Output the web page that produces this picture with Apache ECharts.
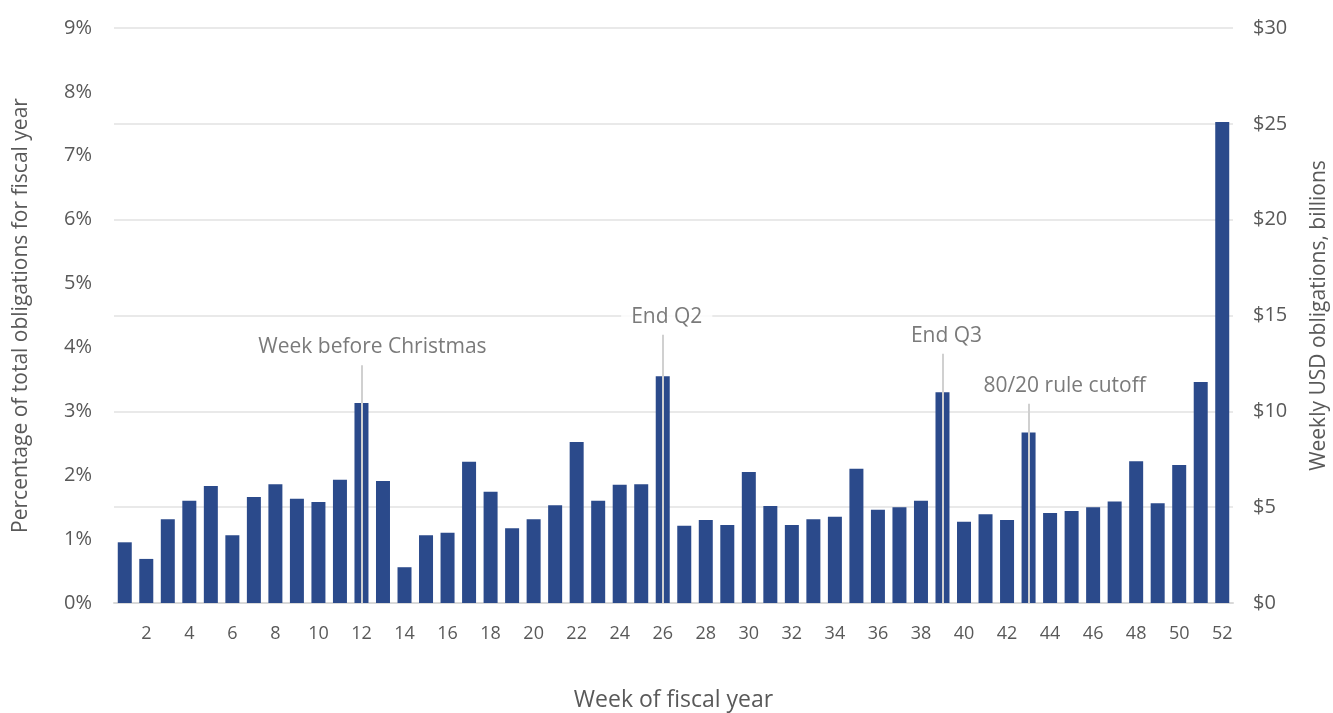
<!DOCTYPE html>
<html>
<head>
<meta charset="utf-8">
<script src="https://cdn.jsdelivr.net/npm/echarts@6/dist/echarts.min.js"></script>
<style>
  html, body { margin: 0; padding: 0; background: #fff; }
  #chart { width: 1333px; height: 713px; }
</style>
</head>
<body>
<div id="chart"></div>
<script>
// weeks of the fiscal year
const weeks = []
for (let w = 1; w <= 52; w++) weeks.push(String(w))

// share of yearly obligations per week, in %
const share = [
  0.95, 0.69, 1.31, 1.60, 1.83, 1.06, 1.66, 1.86, 1.63, 1.58,
  1.93, 3.13, 1.91, 0.56, 1.06, 1.10, 2.21, 1.74, 1.17, 1.31,
  1.53, 2.52, 1.60, 1.85, 1.86, 3.55, 1.21, 1.30, 1.22, 2.05,
  1.52, 1.22, 1.31, 1.35, 2.10, 1.46, 1.50, 1.60, 3.30, 1.27,
  1.39, 1.30, 2.67, 1.41, 1.44, 1.50, 1.59, 2.22, 1.56, 2.16,
  3.46, 7.53
]

// annotations: week, text, label height and line top (in %)
const noteWeeks = ['12', '26', '39', '43']
const noteTexts = ['Week before Christmas', 'End Q2', 'End Q3', '80/20 rule cutoff']
const noteLabelY = [4.01, 4.48, 4.18, 3.40]
const noteLineTop = [3.72, 4.20, 3.90, 3.12]
const noteShift = [11, 4, 4, 36]

const pctTicks = { min: 0, max: 9, interval: 1 }
const usdTicks = { min: 0, max: 30, interval: 5 }

const textColor = '#595959'
const font = 'Open Sans'

const chart = echarts.init(document.getElementById('chart'))

const noteData = noteWeeks.map((w, i) => ({
  value: [w, noteLabelY[i]],
  label: { formatter: noteTexts[i], offset: [noteShift[i], 0] }
}))

const noteLines = noteWeeks.map((w, i) => [
  { coord: [w, noteLineTop[i]] },
  { coord: [w, 0] }
])

chart.setOption({
  animation: false,
  grid: { left: 114, right: 100, top: 28, bottom: 110, outerBoundsMode: 'none', containLabel: false },
  xAxis: {
    type: 'category',
    data: weeks,
    name: 'Week of fiscal year',
    nameLocation: 'middle',
    nameGap: 86,
    nameTextStyle: { color: textColor, fontSize: 23, fontFamily: font },
    axisTick: { show: false },
    axisLine: { lineStyle: { color: '#d9d9d9', width: 2 } },
    axisLabel: {
      interval: (i) => i % 2 === 1,
      color: textColor, fontSize: 18, fontFamily: font, margin: 22
    }
  },
  yAxis: [
    {
      type: 'value',
      min: pctTicks.min, max: pctTicks.max, interval: pctTicks.interval,
      name: 'Percentage of total obligations for fiscal year',
      nameLocation: 'middle',
      nameGap: 82,
      nameTextStyle: { color: textColor, fontSize: 21, fontFamily: font },
      splitLine: { show: false },
      axisLine: { show: false },
      axisTick: { show: false },
      axisLabel: {
        formatter: (v) => v + '%',
        color: textColor, fontSize: 20, fontFamily: font, margin: 22
      }
    },
    {
      type: 'value',
      position: 'right',
      min: usdTicks.min, max: usdTicks.max, interval: usdTicks.interval,
      name: 'Weekly USD obligations, billions',
      nameLocation: 'middle',
      nameGap: 76,
      nameTextStyle: { color: textColor, fontSize: 21, fontFamily: font },
      splitLine: { show: true, lineStyle: { color: '#e2e2e2', width: 1.5 } },
      axisLine: { show: false },
      axisTick: { show: false },
      axisLabel: {
        formatter: (v) => '$' + v,
        color: textColor, fontSize: 20, fontFamily: font, margin: 20
      }
    }
  ],
  series: [
    {
      type: 'bar',
      yAxisIndex: 0,
      data: share,
      barWidth: 14,
      itemStyle: { color: '#2b4a8b' },
      z: 2
    },
    {
      type: 'scatter',
      yAxisIndex: 0,
      data: noteData,
      symbolSize: 1,
      itemStyle: { color: 'rgba(0,0,0,0)' },
      z: 10,
      label: {
        show: true,
        position: 'inside',
        color: textColor,
        fontSize: 21,
        fontFamily: font,
        backgroundColor: '#fff',
        padding: [3, 10]
      },
      markLine: {
        symbol: 'none',
        silent: true,
        label: { show: false },
        lineStyle: { color: '#d0d0d0', width: 2, type: 'solid' },
        data: noteLines
      }
    }
  ]
})
</script>
</body>
</html>
